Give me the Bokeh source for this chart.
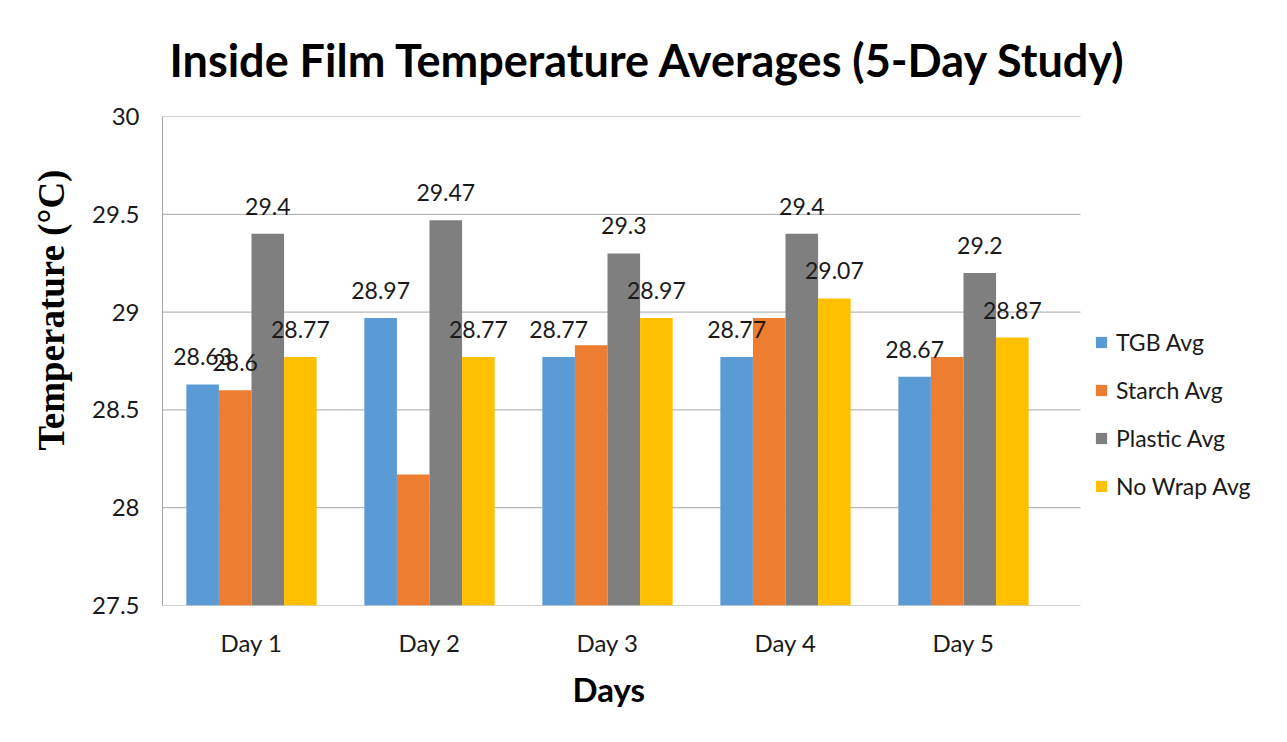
from bokeh.plotting import figure
from bokeh.models import ColumnDataSource, Legend, LegendItem, Range1d, FixedTicker, Title
from bokeh.core.properties import value
from bokeh.embed import file_html
from bokeh.resources import INLINE

days = ["Day 1", "Day 2", "Day 3", "Day 4", "Day 5"]
series_names = ["TGB Avg", "Starch Avg", "Plastic Avg", "No Wrap Avg"]
tgb = [28.63, 28.97, 28.77, 28.77, 28.67]
starch = [28.6, 28.17, 28.83, 28.97, 28.77]
plastic = [29.4, 29.47, 29.3, 29.4, 29.2]
nowrap = [28.77, 28.77, 28.97, 29.07, 28.87]
# which data labels are visible in the original
tgb_lab = [True, True, True, True, True]
starch_lab = [True, False, False, False, False]
plastic_lab = [True, True, True, True, True]
nowrap_lab = [True, True, True, True, True]
y_ticks = [27.5, 28, 28.5, 29, 29.5, 30]
y_tick_labels = ["27.5", "28", "28.5", "29", "29.5", "30"]

colors = ["#5B9BD5", "#ED7D31", "#7F7F7F", "#FFC000"]
FONT = "Lato"

# layout geometry (pixels)
FRAME_L, FRAME_T = 162, 115
CAT_W_PX = 178              # width of one day group in pixels
GRID_W_PX = 918             # gridlines span
FW, FH = 1103, 490
n = len(days)
x_centers = [i + 0.5 for i in range(n)]
x_end = FW / CAT_W_PX
grid_end = GRID_W_PX / CAT_W_PX

p = figure(x_range=Range1d(0, x_end), y_range=Range1d(27.5, 30),
           width=1270, height=725, output_backend="svg", toolbar_location=None,
           min_border_left=FRAME_L, min_border_right=1270 - FRAME_L - FW,
           min_border_top=FRAME_T, min_border_bottom=725 - FRAME_T - FH)

p.title.text = "Inside Film Temperature Averages (5-Day Study)"
p.title.text_font = FONT
p.title.text_font_size = "45px"
p.title.text_font_style = "bold"
p.title.align = "left"
p.title.offset = 7
p.title.text_color = "#000000"
p.title.standoff = 60

# grid lines across the plot area
p.segment(x0=0, x1=grid_end, y0=y_ticks, y1=y_ticks, line_color="#a6a6a6", line_width=1)

bw = 0.183
offsets = [-1.5 * bw, -0.5 * bw, 0.5 * bw, 1.5 * bw]
all_vals = [tgb, starch, plastic, nowrap]
all_labs = [tgb_lab, starch_lab, plastic_lab, nowrap_lab]
items = []
for name, vals, col, off in zip(series_names, all_vals, colors, offsets):
    src = ColumnDataSource(dict(x=[c + off for c in x_centers], top=vals))
    r = p.vbar(x="x", top="top", bottom=27.5, width=bw,
               source=src, fill_color=col, line_color=None)
    items.append(LegendItem(label=name, renderers=[r]))

for vals, labs, off in zip(all_vals, all_labs, offsets):
    lx = [c + off for c, s in zip(x_centers, labs) if s]
    ly = [v for v, s in zip(vals, labs) if s]
    lt = [str(v) for v, s in zip(vals, labs) if s]
    lsrc = ColumnDataSource(dict(x=lx, y=ly, t=lt))
    p.text(x="x", y="y", text="t", source=lsrc,
           text_align="center", text_baseline="bottom", y_offset=-19,
           text_font=value(FONT), text_font_size="23px", text_color="#1a1a1a")

legend = Legend(items=items, location=(932, 105), orientation="vertical",
                glyph_width=14, glyph_height=14, label_height=23, spacing=20,
                padding=0, margin=0, border_line_color=None, background_fill_alpha=0,
                label_text_font=FONT, label_text_font_size="23px", label_text_color="#1a1a1a",
                label_standoff=8)
p.add_layout(legend, "center")

p.yaxis.ticker = FixedTicker(ticks=y_ticks)
p.yaxis.major_label_overrides = dict(zip(y_ticks, y_tick_labels))
p.xaxis.ticker = FixedTicker(ticks=x_centers)
p.xaxis.major_label_overrides = dict(zip(x_centers, days))
for ax in (p.xaxis, p.yaxis):
    ax.major_label_text_font = FONT
    ax.major_label_text_font_size = "24px"
    ax.major_label_text_color = "#1a1a1a"
    ax.major_tick_line_color = None
    ax.minor_tick_line_color = None
    ax.major_tick_out = 0
    ax.major_tick_in = 0
p.yaxis.axis_line_color = "#a6a6a6"
p.xaxis.axis_line_color = None
p.yaxis.major_label_standoff = 23
p.xaxis.major_label_standoff = 22
p.grid.grid_line_color = None
p.outline_line_color = None

ylab = Title(text="Temperature (°C)", align="left", offset=155, standoff=36,
             text_font="Liberation Serif", text_font_size="37px", text_font_style="bold",
             text_color="#000000")
p.add_layout(ylab, "left")
xlab = Title(text="Days", align="left", offset=410, standoff=14,
             text_font=FONT, text_font_size="33px", text_font_style="bold",
             text_color="#000000")
p.add_layout(xlab, "below")

open("out.html", "w").write(file_html(p, INLINE))
